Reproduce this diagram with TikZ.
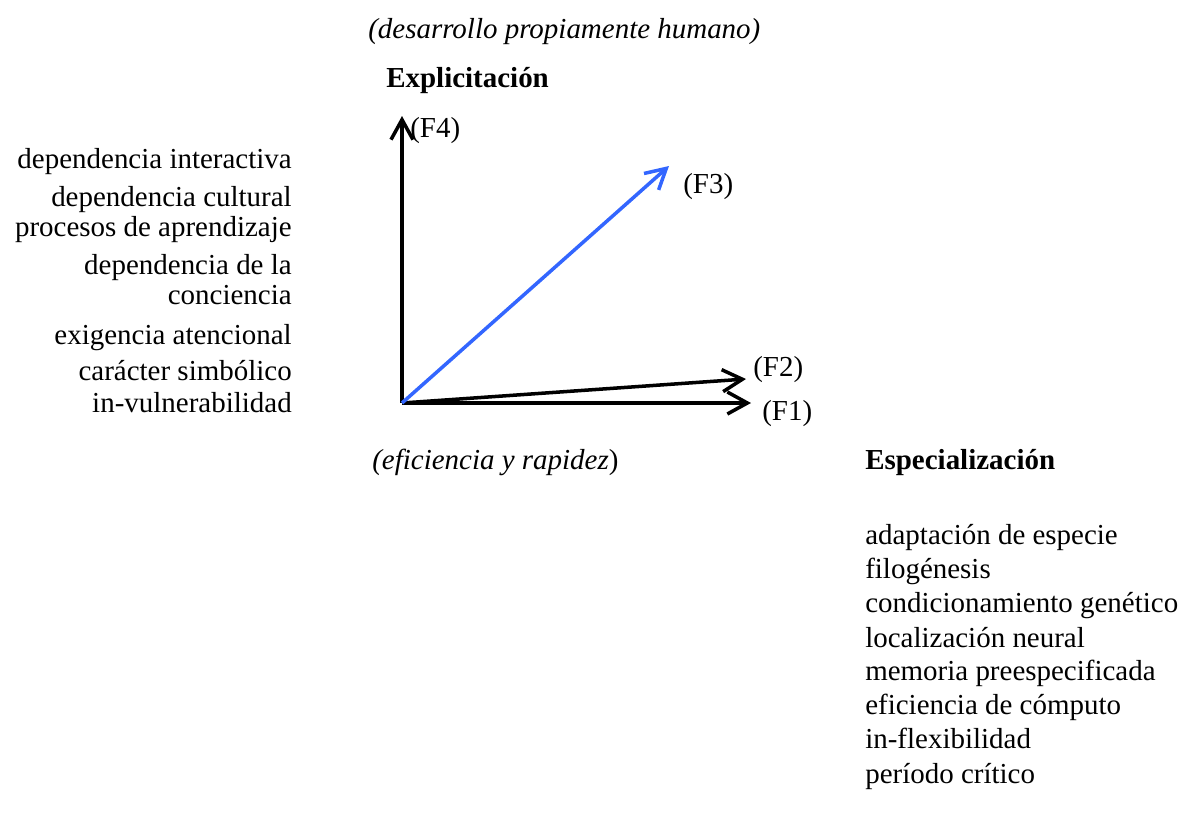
\documentclass[tikz,border=0pt]{standalone}
\usepackage{fontspec}
\setmainfont{Liberation Serif}
\usetikzlibrary{positioning, arrows.meta}
\definecolor{Dark}{HTML}{000000}
\definecolor{Vector}{HTML}{3366FF}
\tikzset{
    txtnode/.style={inner sep=0pt, text=Dark, font=\fontsize{20.6}{24}\selectfont},
    titlenode/.style={inner sep=0pt, text=Dark, font=\bfseries\fontsize{20.6}{24}\selectfont},
    vec/.style={-{Straight Barb[length=5mm, width=5.5mm]}, line width=2.5pt, color=Dark},
}
\begin{document}
\begin{tikzpicture}[x=0.025cm, y=-0.025cm]
    \useasboundingbox (0,0) rectangle (1184,816);

    % Titulos
    \node[txtnode, anchor=base west] (humano) at (368,38) {\itshape (desarrollo propiamente humano)};
    \node[titlenode, anchor=base west] (explic) at (386,87) {Explicitación};
    \node[txtnode, anchor=base west] (eficien) at (372,469) {{\itshape(eficiencia y rapidez})};
    \node[titlenode, anchor=base west] (especial) at (865,469) {Especialización};

    % Vectores
    \coordinate (O) at (402,403);
    \coordinate (F4tip) at (402,116);
    \coordinate (F3tip) at (669,166);
    \coordinate (F2tip) at (746,379);
    \coordinate (F1tip) at (751,403);
    \draw[vec] (O) -- (F4tip);
    \draw[vec] (O) -- (F1tip);
    \draw[vec] (O) -- (F2tip);
    \draw[vec, color=Vector] (O) -- (F3tip);
    \node[txtnode, anchor=base west] (F4) at (410,137) {(F4)};
    \node[txtnode, anchor=base west] (F3) at (683,193) {(F3)};
    \node[txtnode, anchor=base west] (F2) at (753,376) {(F2)};
    \node[txtnode, anchor=base west] (F1) at (762,420) {(F1)};

    % Lista izquierda
    \foreach \t/\y [count=\i] in {dependencia interactiva/168, dependencia cultural/206,
        procesos de aprendizaje/236, dependencia de la/274, conciencia/304,
        exigencia atencional/344, carácter simbólico/380, in-vulnerabilidad/412}
        \node[txtnode, anchor=base east] (izq\i) at (292,\y) {\t};

    % Lista derecha
    \foreach \t/\y [count=\i] in {adaptación de especie/544, filogénesis/578,
        condicionamiento genético/612, localización neural/647, memoria preespecificada/680,
        eficiencia de cómputo/714, in-flexibilidad/748, período crítico/783}
        \node[txtnode, anchor=base west] (der\i) at (865,\y) {\t};
\end{tikzpicture}
\end{document}
